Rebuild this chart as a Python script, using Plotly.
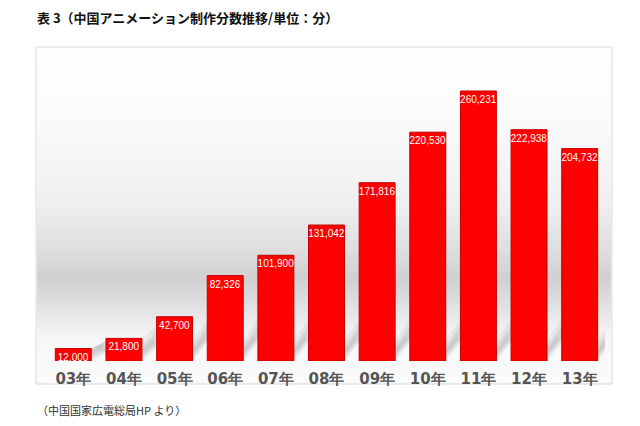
import plotly.graph_objects as go
import numpy as np

years = ["03年", "04年", "05年", "06年", "07年", "08年", "09年", "10年", "11年", "12年", "13年"]
minutes = [12000, 21800, 42700, 82326, 101900, 131042, 171816, 220530, 260231, 222938, 204732]
labels = ["12,000", "21,800", "42,700", "82,326", "101,900", "131,042", "171,816",
          "220,530", "260,231", "222,938", "204,732"]

OFF = 8  # default page body margin
W, H = 640 - OFF, 426 - OFF
L, R, T, B = 48 - OFF, 35, 47 - OFF, 65
pw, ph = W - L - R, H - T - B
YMAX = 260231 * ph / 270
UPP = YMAX / ph          # data units per pixel
CPP = 11 / pw            # categories per pixel
BW = 0.71

def px2x(p):
    return (p - OFF - L) / pw

def py2y(p):
    return (H - B - (p - OFF)) / ph

fig = go.Figure()
fig.add_trace(go.Bar(
    x=list(range(len(years))), y=minutes, text=labels,
    textposition="inside", insidetextanchor="end", textangle=0, constraintext="none",
    textfont=dict(color="white", size=10, family="Liberation Sans, Arial, sans-serif"),
    marker=dict(color="#ff0000", line=dict(color="#c40000", width=1)),
    width=BW, hoverinfo="skip",
))

shapes = []
# background gradient profile (page pixel y -> gray level)
grad_y = [48, 107, 200, 250, 278, 305, 340, 384]
grad_g = [254, 252, 240, 222, 208, 224, 248, 250]

y = 48
while y < 383:
    g = int(round(np.interp(y + 1.5, grad_y, grad_g)))
    shapes.append(dict(type="rect", xref="paper", yref="paper", layer="below",
                       x0=px2x(37), x1=px2x(611), y0=py2y(y + 3), y1=py2y(y),
                       fillcolor=f"rgb({g},{g},{g})", line=dict(width=0)))
    y += 3

# soft diagonal shadows to the lower right of each bar
for i, v in enumerate(minutes):
    xr = i + BW / 2
    for (lo, hi, dx, op) in [(0, 22, 20, 0.10), (3, 16, 16, 0.12), (6, 12, 12, 0.12)]:
        top = min(hi * UPP, v)
        rise = min(25 * UPP, v * 0.8)
        pts = [(xr, lo * UPP), (xr, top), (xr + dx * CPP, top + rise * dx / 20),
               (xr + dx * CPP, lo * UPP + rise * dx / 20)]
        path = "M " + " L ".join(f"{a},{b}" for a, b in pts) + " Z"
        shapes.append(dict(type="path", xref="x", yref="y", layer="below", path=path,
                           fillcolor=f"rgba(110,110,110,{op})", line=dict(width=0)))

shapes.append(dict(type="rect", xref="paper", yref="paper", layer="below",
                   x0=px2x(36), x1=px2x(612), y0=py2y(384), y1=py2y(47),
                   fillcolor="rgba(0,0,0,0)", line=dict(color="#d8d8d8", width=1)))

fig.update_layout(
    width=W, height=H,
    margin=dict(l=L, r=R, t=T, b=B),
    paper_bgcolor="white", plot_bgcolor="rgba(0,0,0,0)",
    showlegend=False,
    shapes=shapes,
    xaxis=dict(showgrid=False, showline=False, zeroline=False, ticks="",
               range=[-0.5, len(years) - 0.5],
               tickmode="array", tickvals=list(range(len(years))), ticktext=years,
               tickfont=dict(size=15, color="#555555", family="DejaVu Sans, sans-serif", weight="bold"),
               ticklabelstandoff=7),
    yaxis=dict(range=[0, YMAX], visible=False, showgrid=False, zeroline=False),
    annotations=[
        dict(text="<b>表 3（中国アニメーション制作分数推移/単位：分）</b>", xref="paper", yref="paper",
             x=px2x(35), y=py2y(18), xanchor="left", yanchor="middle", showarrow=False,
             font=dict(size=13, color="#111111", family="Noto Sans CJK JP")),
        dict(text="（中国国家広電総局HP より）", xref="paper", yref="paper",
             x=px2x(35), y=py2y(410), xanchor="left", yanchor="middle", showarrow=False,
             font=dict(size=11, color="#333333", family="Noto Sans CJK JP")),
    ],
)

fig.write_html("out.html")
